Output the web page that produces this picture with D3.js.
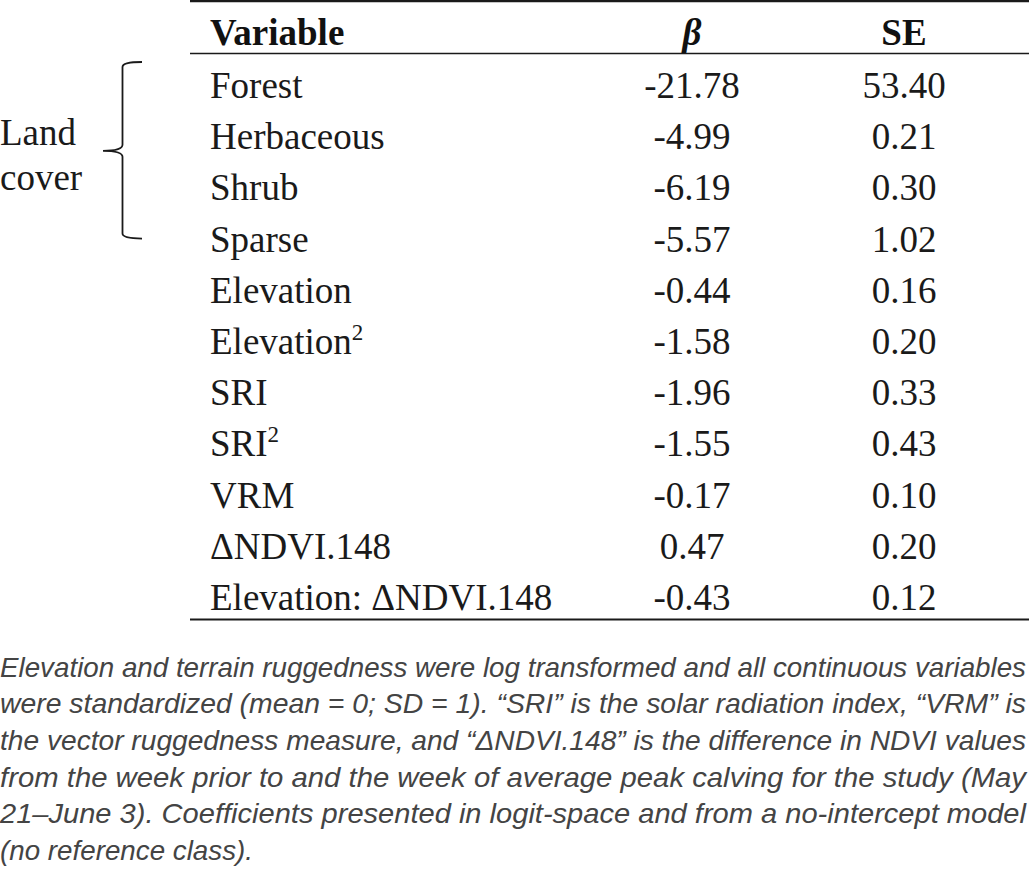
<!DOCTYPE html>
<html>
<head>
<meta charset="utf-8">
<script src="https://cdn.jsdelivr.net/npm/d3@7"></script>
<style>
  html, body { margin: 0; padding: 0; background: #fff; }
  svg { display: block; }
  .serif { font-family: "Liberation Serif", "DejaVu Serif", serif; }
  .sans { font-family: "Liberation Sans", "DejaVu Sans", sans-serif; }
</style>
</head>
<body>
<div id="table_container"></div>
<script>
// table contents
const headers = ["Variable", "β", "SE"];
const variables = ["Forest", "Herbaceous", "Shrub", "Sparse", "Elevation", "Elevation",
    "SRI", "SRI", "VRM", "ΔNDVI.148", "Elevation: ΔNDVI.148"];
const superscripts = ["", "", "", "", "", "2", "", "2", "", "", ""];
const betas = ["-21.78", "-4.99", "-6.19", "-5.57", "-0.44", "-1.58", "-1.96", "-1.55", "-0.17", "0.47", "-0.43"];
const ses = ["53.40", "0.21", "0.30", "1.02", "0.16", "0.20", "0.33", "0.43", "0.10", "0.20", "0.12"];
const groupLabel = ["Land", "cover"];
const groupRows = [0, 3]; // first and last row index covered by the bracket

const footnoteLines = [
    "Elevation and terrain ruggedness were log transformed and all continuous variables",
    "were standardized (mean = 0; SD = 1). “SRI” is the solar radiation index, “VRM” is",
    "the vector ruggedness measure, and “ΔNDVI.148” is the difference in NDVI values",
    "from the week prior to and the week of average peak calving for the study (May",
    "21–June 3). Coefficients presented in logit-space and from a no-intercept model",
    "(no reference class)."
];

const width = 1029, height = 869;
const fontSize = 37;

const svg = d3.select("#table_container")
    .append("svg")
    .attr("width", width)
    .attr("height", height);

// row baselines
const y = d3.scalePoint()
    .domain(d3.range(variables.length))
    .range([98, 610]);

// column anchors
const colX = d3.scaleOrdinal()
    .domain(headers)
    .range([210, 692, 904]);

const ruleLeft = 190, ruleRight = 1029;

// rules
svg.append("line").attr("x1", ruleLeft).attr("x2", ruleRight)
    .attr("y1", 1.2).attr("y2", 1.2)
    .attr("stroke", "#1a1a1a").attr("stroke-width", 2.2);
svg.append("line").attr("x1", ruleLeft).attr("x2", ruleRight)
    .attr("y1", 53.5).attr("y2", 53.5)
    .attr("stroke", "#1a1a1a").attr("stroke-width", 1.6);
svg.append("line").attr("x1", ruleLeft).attr("x2", ruleRight)
    .attr("y1", 619.5).attr("y2", 619.5)
    .attr("stroke", "#1a1a1a").attr("stroke-width", 2.2);

// header
svg.selectAll(".header")
    .data(headers)
    .enter().append("text")
    .attr("class", "header serif")
    .attr("x", d => colX(d))
    .attr("y", 45)
    .attr("text-anchor", (d, i) => i === 0 ? "start" : "middle")
    .style("font-size", fontSize + "px")
    .style("font-weight", "bold")
    .style("font-style", (d, i) => i === 1 ? "italic" : "normal")
    .attr("fill", "#111")
    .text(d => d);

// variable names
const names = svg.selectAll(".name")
    .data(variables)
    .enter().append("text")
    .attr("class", "name serif")
    .attr("x", colX("Variable"))
    .attr("y", (d, i) => y(i))
    .style("font-size", fontSize + "px")
    .attr("fill", "#1a1a1a");

names.append("tspan").text(d => d);
names.append("tspan")
    .attr("dy", -14)
    .style("font-size", "23px")
    .text((d, i) => superscripts[i]);

// beta and SE values
[[betas, "β"], [ses, "SE"]].forEach(([vals, col]) => {
    svg.selectAll(".val-" + col)
        .data(vals)
        .enter().append("text")
        .attr("class", "serif")
        .attr("x", colX(col))
        .attr("y", (d, i) => y(i))
        .attr("text-anchor", "middle")
        .style("font-size", fontSize + "px")
        .attr("fill", "#1a1a1a")
        .text(d => d);
});

// group label and bracket
svg.selectAll(".group")
    .data(groupLabel)
    .enter().append("text")
    .attr("class", "serif")
    .attr("x", 0)
    .attr("y", (d, i) => 145 + i * 45)
    .style("font-size", fontSize + "px")
    .attr("fill", "#1a1a1a")
    .text(d => d);

const braceTop = y(groupRows[0]) - 36, braceBot = y(groupRows[1]) - 13;
const braceMid = (braceTop + braceBot) / 2 + 0.5;
const bx = 122.5, tipX = 103, endX = 142;
const p = d3.path();
p.moveTo(endX, braceTop);
p.quadraticCurveTo(bx, braceTop, bx, braceTop + 5);
p.lineTo(bx, braceMid - 6);
p.quadraticCurveTo(bx, braceMid, tipX, braceMid);
p.quadraticCurveTo(bx, braceMid, bx, braceMid + 6);
p.lineTo(bx, braceBot - 5);
p.quadraticCurveTo(bx, braceBot, endX, braceBot);
svg.append("path")
    .attr("d", p.toString())
    .attr("fill", "none")
    .attr("stroke", "#1a1a1a")
    .attr("stroke-width", 1.8);

// footnote, justified
const footY = d3.scalePoint()
    .domain(d3.range(footnoteLines.length))
    .range([676.5, 860]);

const foot = svg.selectAll(".foot")
    .data(footnoteLines)
    .enter().append("text")
    .attr("class", "foot sans")
    .attr("x", 0)
    .attr("y", (d, i) => footY(i))
    .style("font-size", "27.5px")
    .style("font-style", "italic")
    .attr("fill", "#444")
    .text(d => d);

// squeeze to the condensed width of the original; last line not justified
const lineWidth = 1026;
let ratio = 1;
foot.each(function (d, i) {
    const w = this.getComputedTextLength();
    if (i === 0) ratio = lineWidth / w;
    if (i < footnoteLines.length - 1) {
        d3.select(this).attr("textLength", lineWidth).attr("lengthAdjust", "spacingAndGlyphs");
    } else {
        d3.select(this).attr("textLength", w * ratio).attr("lengthAdjust", "spacingAndGlyphs");
    }
});
</script>
</body>
</html>
